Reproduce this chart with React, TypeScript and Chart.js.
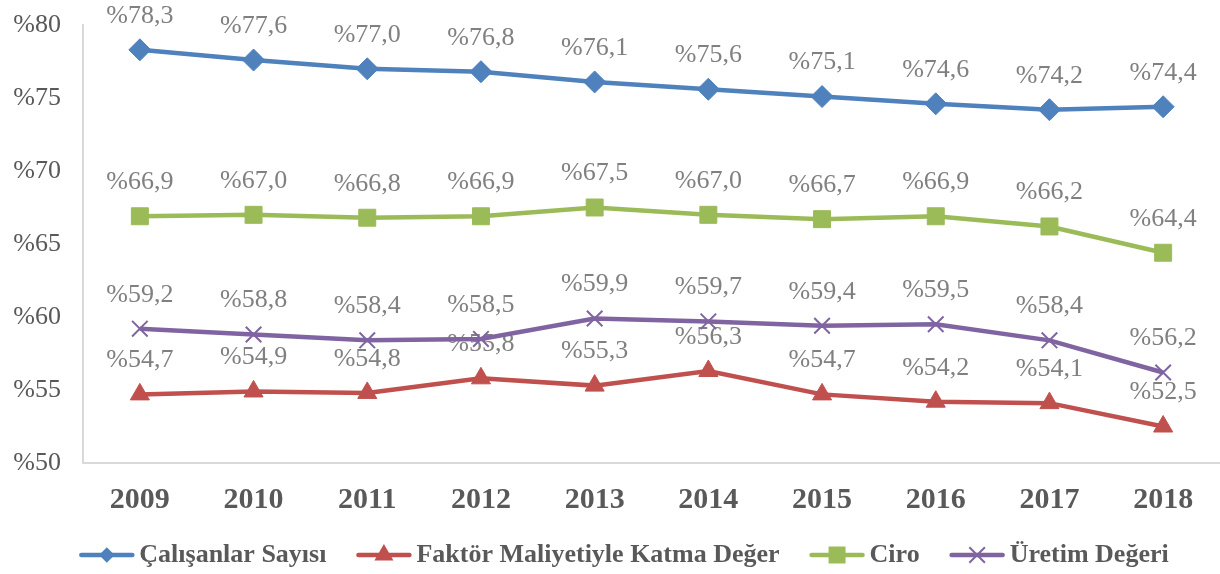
import { useEffect, useRef } from "react";
import { Chart, registerables } from "chart.js";
Chart.register(...registerables);

const years = ["2009", "2010", "2011", "2012", "2013", "2014", "2015", "2016", "2017", "2018"];
const calisanlar = [78.3, 77.6, 77.0, 76.8, 76.1, 75.6, 75.1, 74.6, 74.2, 74.4];
const faktor = [54.7, 54.9, 54.8, 55.8, 55.3, 56.3, 54.7, 54.2, 54.1, 52.5];
const ciro = [66.9, 67.0, 66.8, 66.9, 67.5, 67.0, 66.7, 66.9, 66.2, 64.4];
const uretim = [59.2, 58.8, 58.4, 58.5, 59.9, 59.7, 59.4, 59.5, 58.4, 56.2];
const seriesNames = ["Çalışanlar Sayısı", "Faktör Maliyetiyle Katma Değer", "Ciro", "Üretim Değeri"];
const seriesColors = ["#4f81bd", "#c0504d", "#9bbb59", "#8064a2"];
const seriesStyles = ["rectRot", "triangle", "rect", "crossRot"];
const seriesRadius = [11, 11, 12, 11];

const FONT = "'Liberation Serif', 'DejaVu Serif', serif";

function drawMarker(ctx: CanvasRenderingContext2D, style: string, x: number, y: number, r: number, color: string) {
  ctx.fillStyle = color;
  ctx.strokeStyle = color;
  ctx.lineWidth = style === "crossRot" ? 2 : 1;
  ctx.beginPath();
  const s = Math.SQRT1_2 * r;
  if (style === "rectRot") {
    ctx.moveTo(x - s, y); ctx.lineTo(x, y + s); ctx.lineTo(x + s, y); ctx.lineTo(x, y - s); ctx.closePath();
    ctx.fill();
  } else if (style === "triangle") {
    let rad = 0;
    ctx.moveTo(x + Math.sin(rad) * r, y - Math.cos(rad) * r);
    rad += (2 * Math.PI) / 3;
    ctx.lineTo(x + Math.sin(rad) * r, y - Math.cos(rad) * r);
    rad += (2 * Math.PI) / 3;
    ctx.lineTo(x + Math.sin(rad) * r, y - Math.cos(rad) * r);
    ctx.closePath();
    ctx.fill();
  } else if (style === "rect") {
    ctx.rect(x - s, y - s, 2 * s, 2 * s);
    ctx.fill();
  } else {
    ctx.moveTo(x - s, y - s); ctx.lineTo(x + s, y + s);
    ctx.moveTo(x - s, y + s); ctx.lineTo(x + s, y - s);
    ctx.stroke();
  }
}

const labelPlugin = {
  id: "valueLabels",
  beforeDatasetsDraw(chart: any) {
    const ctx = chart.ctx;
    ctx.save();
    ctx.font = `26px ${FONT}`;
    ctx.fillStyle = "#808080";
    ctx.textAlign = "center";
    ctx.textBaseline = "middle";
    chart.data.datasets.forEach((ds: any, i: number) => {
      const meta = chart.getDatasetMeta(i);
      meta.data.forEach((el: any, j: number) => {
        const v = ds.data[j] as number;
        ctx.fillText("%" + v.toFixed(1).replace(".", ","), el.x, el.y - 34);
      });
    });
    ctx.restore();
  },
};

const LEG_LINE = 55;
const LEG_GAP = 5;
const LEG_ITEM_GAP = 30;
const legendPlugin = {
  id: "lineLegend",
  afterDraw(chart: any) {
    const ctx = chart.ctx;
    ctx.save();
    ctx.font = `bold 26px ${FONT}`;
    const widths = chart.data.datasets.map((ds: any) => ctx.measureText(ds.label).width);
    const total = widths.reduce((a: number, w: number) => a + LEG_LINE + LEG_GAP + w, 0) + LEG_ITEM_GAP * (widths.length - 1);
    let x = (chart.width - total) / 2 + 14;
    const y = 555;
    chart.data.datasets.forEach((ds: any, i: number) => {
      ctx.strokeStyle = seriesColors[i];
      ctx.lineWidth = 4.5;
      ctx.lineCap = "round";
      ctx.beginPath();
      ctx.moveTo(x + 2, y);
      ctx.lineTo(x + LEG_LINE - 2, y);
      ctx.stroke();
      ctx.lineCap = "butt";
      drawMarker(ctx, seriesStyles[i], x + LEG_LINE / 2, y, seriesRadius[i], seriesColors[i]);
      ctx.fillStyle = "#595959";
      ctx.textAlign = "left";
      ctx.textBaseline = "middle";
      ctx.fillText(ds.label, x + LEG_LINE + LEG_GAP, y);
      x += LEG_LINE + LEG_GAP + widths[i] + LEG_ITEM_GAP;
    });
    ctx.restore();
  },
};

export default function App() {
  const ref = useRef<HTMLCanvasElement>(null);
  useEffect(() => {
    const values = [calisanlar, faktor, ciro, uretim];
    const chart = new Chart(ref.current!, {
      type: "line",
      data: {
        labels: years,
        datasets: seriesNames.map((name, i) => ({
          label: name,
          data: values[i],
          borderColor: seriesColors[i],
          backgroundColor: seriesColors[i],
          borderWidth: 4.5,
          pointStyle: seriesStyles[i] as any,
          pointRadius: seriesRadius[i],
          pointHoverRadius: seriesRadius[i],
          pointBackgroundColor: seriesColors[i],
          pointBorderColor: seriesColors[i],
          pointBorderWidth: seriesStyles[i] === "crossRot" ? 2 : 1,
          tension: 0,
          clip: false as any,
        })),
      },
      options: {
        animation: false,
        responsive: true,
        maintainAspectRatio: false,
        layout: { autoPadding: false, padding: { top: 25, left: 0, right: 0, bottom: 42 } },
        scales: {
          x: {
            offset: true,
            grid: { display: false, drawTicks: false },
            border: { display: true, color: "#d9d9d9", width: 2 },
            ticks: { color: "#595959", font: { family: FONT, size: 30, weight: "bold" }, padding: 19 },
            afterFit: (s: any) => { s.height = 69; s.paddingLeft = 0; s.paddingRight = 0; },
          },
          y: {
            min: 50,
            max: 80,
            grid: { display: false, drawTicks: false },
            border: { display: true, color: "#d9d9d9", width: 2 },
            ticks: {
              stepSize: 5,
              color: "#595959",
              font: { family: FONT, size: 26 },
              padding: 22,
              callback: (v: any) => "%" + v,
            },
            afterFit: (s: any) => { s.width = 83; s.paddingTop = 0; s.paddingBottom = 0; },
          },
        },
        plugins: {
          tooltip: { enabled: false },
          legend: { display: false },
        },
      },
      plugins: [labelPlugin, legendPlugin],
    });
    return () => chart.destroy();
  }, []);
  return (
    <div style={{ position: "fixed", left: 0, top: 0, width: 1220, height: 574, background: "#fff" }}>
      <canvas ref={ref} />
    </div>
  );
}
